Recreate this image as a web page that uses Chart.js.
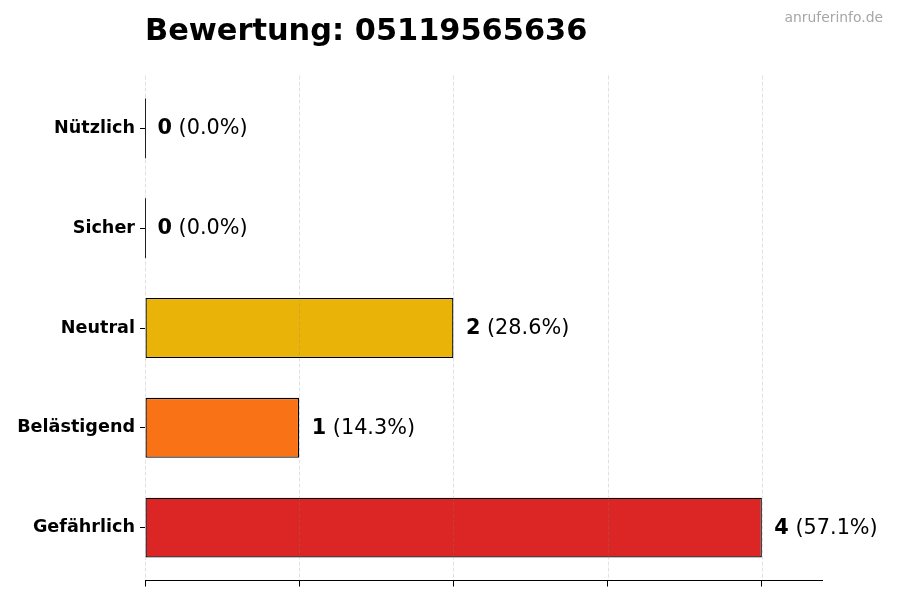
<!DOCTYPE html>
<html>
<head>
<meta charset="utf-8">
<script src="https://cdn.jsdelivr.net/npm/chart.js@4.4.1/dist/chart.umd.min.js"></script>
<style>
  html, body { margin: 0; padding: 0; background: #ffffff; }
  #wrap { width: 900px; height: 600px; }
</style>
</head>
<body>
<div id="wrap"><canvas id="c" width="900" height="600"></canvas></div>
<script>
const titleText = 'Bewertung: 05119565636';
const watermarkText = 'anruferinfo.de';
const categories = ['Nützlich', 'Sicher', 'Neutral', 'Belästigend', 'Gefährlich'];
const counts = [0, 0, 2, 1, 4];
const barColors = ['#22c55e', '#3b82f6', '#eab308', '#f97316', '#dc2626'];
const xTicks = [0, 1, 2, 3, 4];

const total = counts.reduce((a, b) => a + b, 0);
const FONT = '"DejaVu Sans", "Liberation Sans", sans-serif';

const overlayPlugin = {
  id: 'overlay',
  afterDatasetsDraw(chart) {
    const ctx = chart.ctx;
    const area = chart.chartArea;
    const xs = chart.scales.x;
    ctx.save();
    ctx.strokeStyle = 'rgba(128,128,128,0.3)';
    ctx.lineWidth = 0.8;
    ctx.setLineDash([4, 2]);
    xTicks.forEach(v => {
      const px = Math.round(xs.getPixelForValue(v)) + 0.5;
      ctx.beginPath();
      ctx.moveTo(px, area.top);
      ctx.lineTo(px, area.bottom);
      ctx.stroke();
    });
    ctx.restore();

    const meta = chart.getDatasetMeta(0);
    ctx.save();
    meta.data.forEach((el, i) => {
      const v = counts[i];
      if (v === 0) {
        ctx.strokeStyle = '#222';
        ctx.lineWidth = 1;
        ctx.beginPath();
        const px = Math.round(el.base) + 0.5;
        ctx.moveTo(px, el.y - el.height / 2);
        ctx.lineTo(px, el.y + el.height / 2);
        ctx.stroke();
      }
      const pct = total ? (v / total * 100).toFixed(1) : '0.0';
      let x = el.x + 12.5;
      const y = el.y + 0.5;
      ctx.textBaseline = 'middle';
      ctx.textAlign = 'left';
      ctx.fillStyle = '#000';
      ctx.font = 'bold 20.8px ' + FONT;
      const s1 = String(v);
      ctx.fillText(s1, x, y);
      x += ctx.measureText(s1).width;
      ctx.font = '20.8px ' + FONT;
      ctx.fillText(' (' + pct + '%)', x, y);
    });
    ctx.restore();
  },
  afterDraw(chart) {
    const ctx = chart.ctx;
    ctx.save();
    ctx.textBaseline = 'alphabetic';
    ctx.textAlign = 'left';
    ctx.fillStyle = '#000';
    ctx.font = 'bold 30.4px ' + FONT;
    ctx.fillText(titleText, chart.chartArea.left, 40);
    ctx.textAlign = 'right';
    ctx.fillStyle = '#a6a6a6';
    ctx.font = '13.9px ' + FONT;
    ctx.fillText(watermarkText, 883, 22);
    ctx.restore();
  }
};

new Chart(document.getElementById('c'), {
  type: 'bar',
  data: {
    datasets: [{
      data: counts.map((v, i) => ({ x: v, y: i })),
      backgroundColor: barColors,
      borderColor: '#000000',
      borderWidth: 1.3,
      borderSkipped: false,
      barPercentage: 0.6,
      categoryPercentage: 1.0
    }]
  },
  options: {
    indexAxis: 'y',
    responsive: false,
    animation: false,
    devicePixelRatio: 1,
    layout: { padding: { top: 75.5, right: 78, bottom: 0, left: 0 } },
    plugins: {
      legend: { display: false },
      tooltip: { enabled: false },
      title: { display: false }
    },
    scales: {
      x: {
        type: 'linear',
        position: 'bottom',
        min: 0,
        max: 4.39,
        offset: false,
        afterBuildTicks(scale) { scale.ticks = xTicks.map(v => ({ value: v })); },
        afterFit(scale) { scale.height = 19.5; },
        ticks: { display: false },
        grid: { offset: false, drawOnChartArea: false, drawTicks: true, tickLength: 6, tickColor: '#000', tickWidth: 1 },
        border: { display: true, color: '#000', width: 1 }
      },
      y: {
        type: 'linear',
        reverse: true,
        min: -0.53,
        max: 4.53,
        offset: false,
        afterBuildTicks(scale) { scale.ticks = categories.map((_, i) => ({ value: i })); },
        afterFit(scale) { scale.width = 145; },
        ticks: {
          padding: 5,
          color: '#000',
          font: { family: FONT, size: 17.6, weight: 'bold' },
          callback: (v) => categories[v] !== undefined ? categories[v] : ''
        },
        grid: { offset: false, drawOnChartArea: false, drawTicks: true, tickLength: 5, tickColor: '#000', tickWidth: 1 },
        border: { display: false }
      }
    }
  },
  plugins: [overlayPlugin]
});
</script>
</body>
</html>
